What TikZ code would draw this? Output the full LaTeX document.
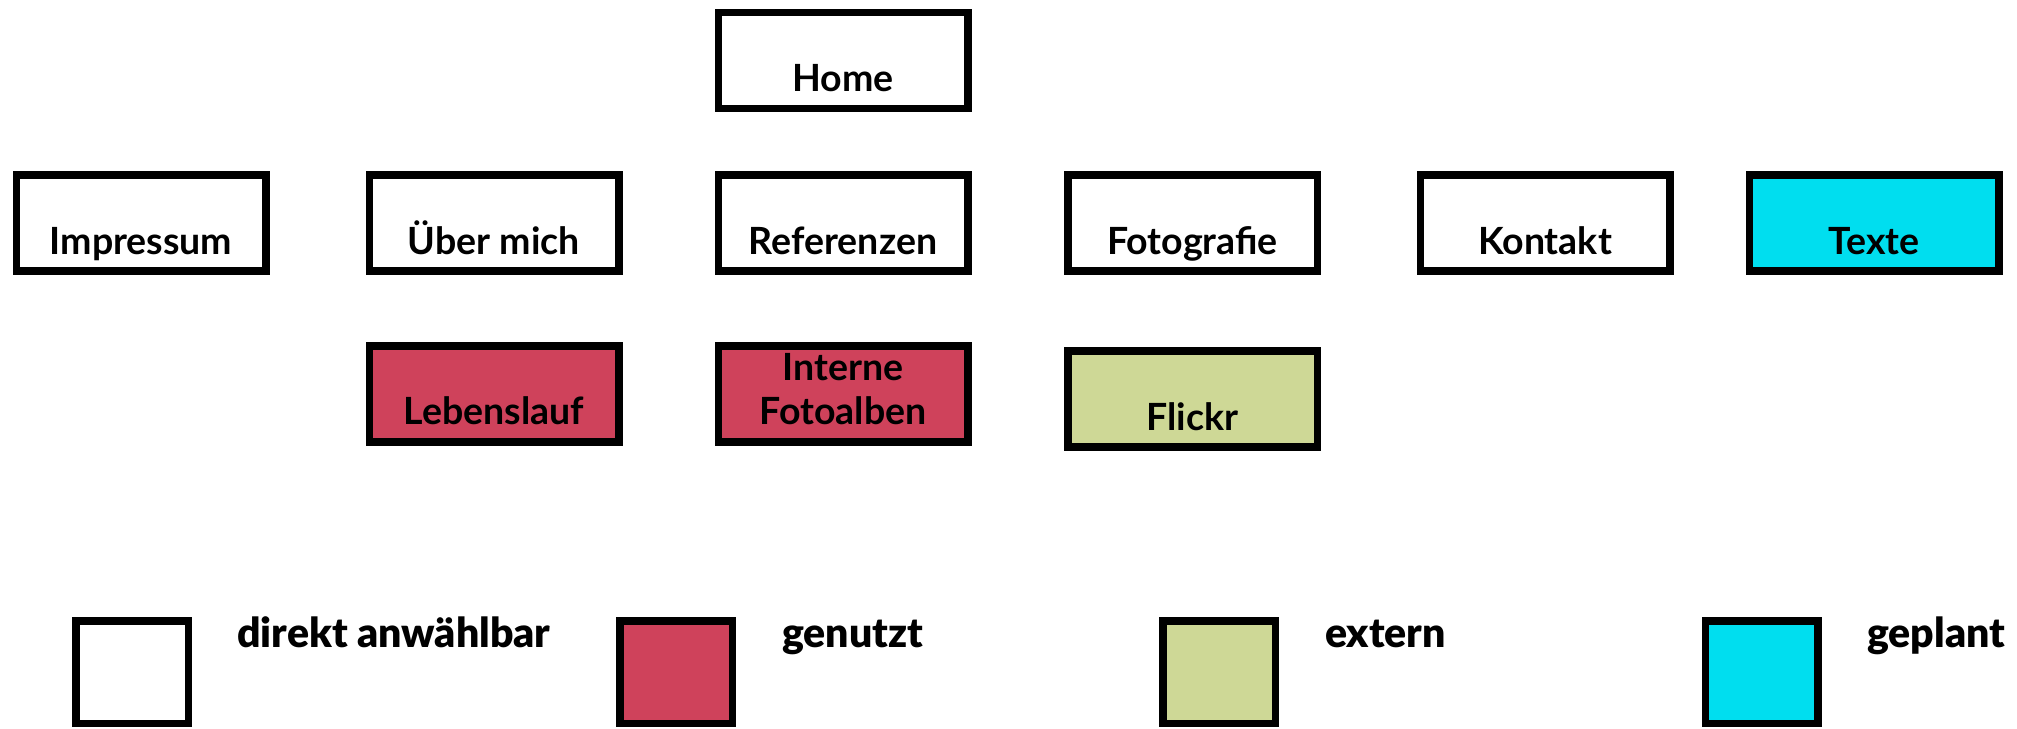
\documentclass[tikz,border=0pt]{standalone}
\usepackage{fontspec}
\setmainfont{Lato}
\newfontfamily\latoblack{Lato Black}
\definecolor{usedred}{HTML}{CF425B}
\definecolor{extgreen}{HTML}{CED896}
\definecolor{plancyan}{HTML}{00DEEF}
\begin{document}
\begin{tikzpicture}[x=1pt,y=-1pt,
  pagebox/.style={draw=black,line width=7.5pt,minimum width=249.5pt,minimum height=96pt,inner sep=0pt,outer sep=0pt},
  legbox/.style={draw=black,line width=7.5pt,minimum width=112.5pt,minimum height=102.5pt,inner sep=0pt,outer sep=0pt},
  lbl/.style={anchor=base,inner sep=0pt,font=\fontsize{37.5}{44}\selectfont\bfseries,align=center},
  leg/.style={anchor=base west,inner sep=0pt,font=\fontsize{41}{48}\selectfont\latoblack}]
\useasboundingbox (0,0) rectangle (2017,728);
% row 1
\node[pagebox] (home) at (843,60.5) {};
\node[lbl] (homet) at (843,91) {Home};
% row 2
\node[pagebox] (impr) at (141,223) {};
\node[lbl] (imprt) at (141,254) {Impressum};
\node[pagebox] (ueber) at (494,223) {};
\node[lbl] (uebert) at (494,254) {Über mich};
\node[pagebox] (ref) at (843,223) {};
\node[lbl] (reft) at (843,254) {Referenzen};
\node[pagebox] (foto) at (1192.5,223) {};
\node[lbl] (fotot) at (1192.5,254) {Fotografie};
\node[pagebox] (kont) at (1545,223) {};
\node[lbl] (kontt) at (1545,254) {Kontakt};
\node[pagebox,fill=plancyan] (texte) at (1874,223) {};
\node[lbl] (textet) at (1874,254) {Texte};
% row 3
\node[pagebox,fill=usedred] (leben) at (494,394) {};
\node[lbl] (lebent) at (494,424) {Lebenslauf};
\node[pagebox,fill=usedred] (intern) at (843,394) {};
\node[lbl] (interna) at (843,380) {Interne};
\node[lbl] (internb) at (843,424) {Fotoalben};
\node[pagebox,fill=extgreen] (flickr) at (1192.5,399) {};
\node[lbl] (flickrt) at (1192.5,430) {Flickr};
% legend
\node[legbox] (l1) at (132,672) {};
\node[leg] (l1t) at (237,647) {direkt anwählbar};
\node[legbox,fill=usedred] (l2) at (676,672) {};
\node[leg] (l2t) at (782,647) {genutzt};
\node[legbox,fill=extgreen] (l3) at (1219,672) {};
\node[leg] (l3t) at (1325,647) {extern};
\node[legbox,fill=plancyan] (l4) at (1761.5,672) {};
\node[leg] (l4t) at (1867,647) {geplant};
\end{tikzpicture}
\end{document}
